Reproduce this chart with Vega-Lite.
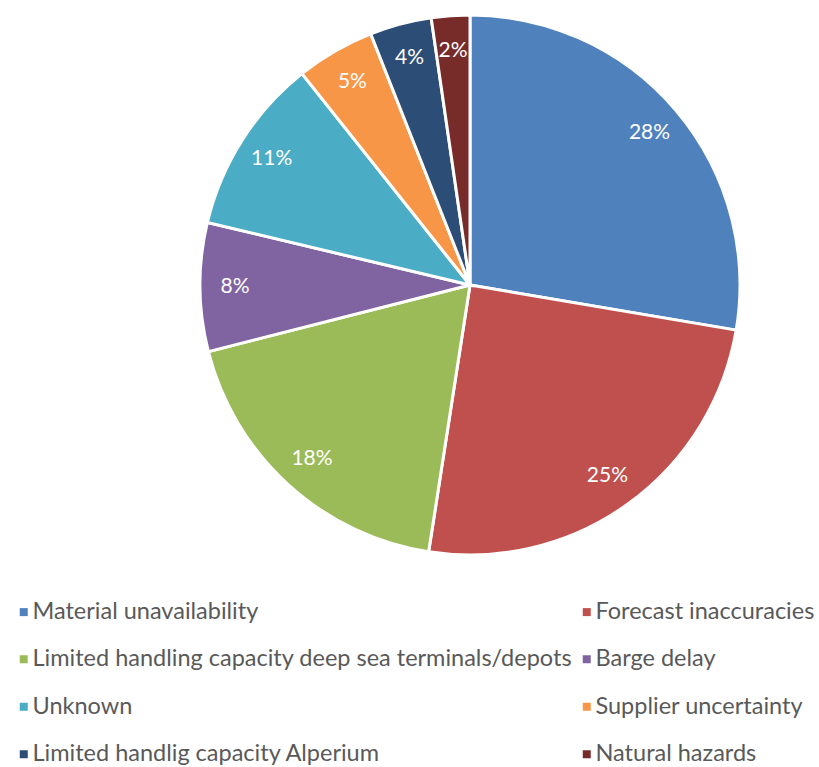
{
  "$schema": "https://vega.github.io/schema/vega-lite/v6.json",
  "width": 540,
  "height": 540,
  "autosize": "none",
  "padding": {"left": 200, "top": 15, "right": 79, "bottom": 212},
  "background": "white",
  "data": {
    "values": [
      {"idx": 1, "cause": "Material unavailability", "value": 27.7, "label": "28%"},
      {"idx": 2, "cause": "Forecast inaccuracies", "value": 24.8, "label": "25%"},
      {"idx": 3, "cause": "Limited handling capacity deep sea terminals/depots", "value": 18.6, "label": "18%"},
      {"idx": 4, "cause": "Barge delay", "value": 7.7, "label": "8%"},
      {"idx": 5, "cause": "Unknown", "value": 10.6, "label": "11%"},
      {"idx": 6, "cause": "Supplier uncertainty", "value": 4.7, "label": "5%"},
      {"idx": 7, "cause": "Limited handlig capacity Alperium", "value": 3.7, "label": "4%"},
      {"idx": 8, "cause": "Natural hazards", "value": 2.3, "label": "2%"}
    ]
  },
  "encoding": {
    "theta": {"field": "value", "type": "quantitative", "stack": true},
    "order": {"field": "idx", "type": "quantitative"}
  },
  "layer": [
    {
      "mark": {"type": "arc", "stroke": "white", "strokeWidth": 3},
      "encoding": {
        "color": {
          "field": "cause",
          "type": "nominal",
          "sort": ["Material unavailability", "Forecast inaccuracies", "Limited handling capacity deep sea terminals/depots", "Barge delay", "Unknown", "Supplier uncertainty", "Limited handlig capacity Alperium", "Natural hazards"],
          "scale": {
            "domain": ["Material unavailability", "Forecast inaccuracies", "Limited handling capacity deep sea terminals/depots", "Barge delay", "Unknown", "Supplier uncertainty", "Limited handlig capacity Alperium", "Natural hazards"],
            "range": ["#4F81BD", "#C0504D", "#9BBB59", "#8064A2", "#4BACC6", "#F79646", "#2C4D75", "#772C2A"]
          },
          "legend": {
            "title": null,
            "orient": "none",
            "direction": "horizontal",
            "legendX": -188,
            "legendY": 585,
            "columns": 2,
            "padding": 0,
            "symbolType": "square",
            "symbolSize": 64,
            "symbolStrokeWidth": 0,
            "labelFont": "Lato",
            "labelFontSize": 23.5,
            "labelColor": "#595959",
            "labelOffset": -3,
            "labelLimit": 700,
            "rowPadding": 22.5,
            "columnPadding": 2
          }
        }
      }
    },
    {
      "mark": {"type": "text", "radius": 235, "fill": "white", "font": "Lato", "fontSize": 21},
      "encoding": {"text": {"field": "label", "type": "nominal"}}
    }
  ],
  "config": {"view": {"stroke": null}}
}
